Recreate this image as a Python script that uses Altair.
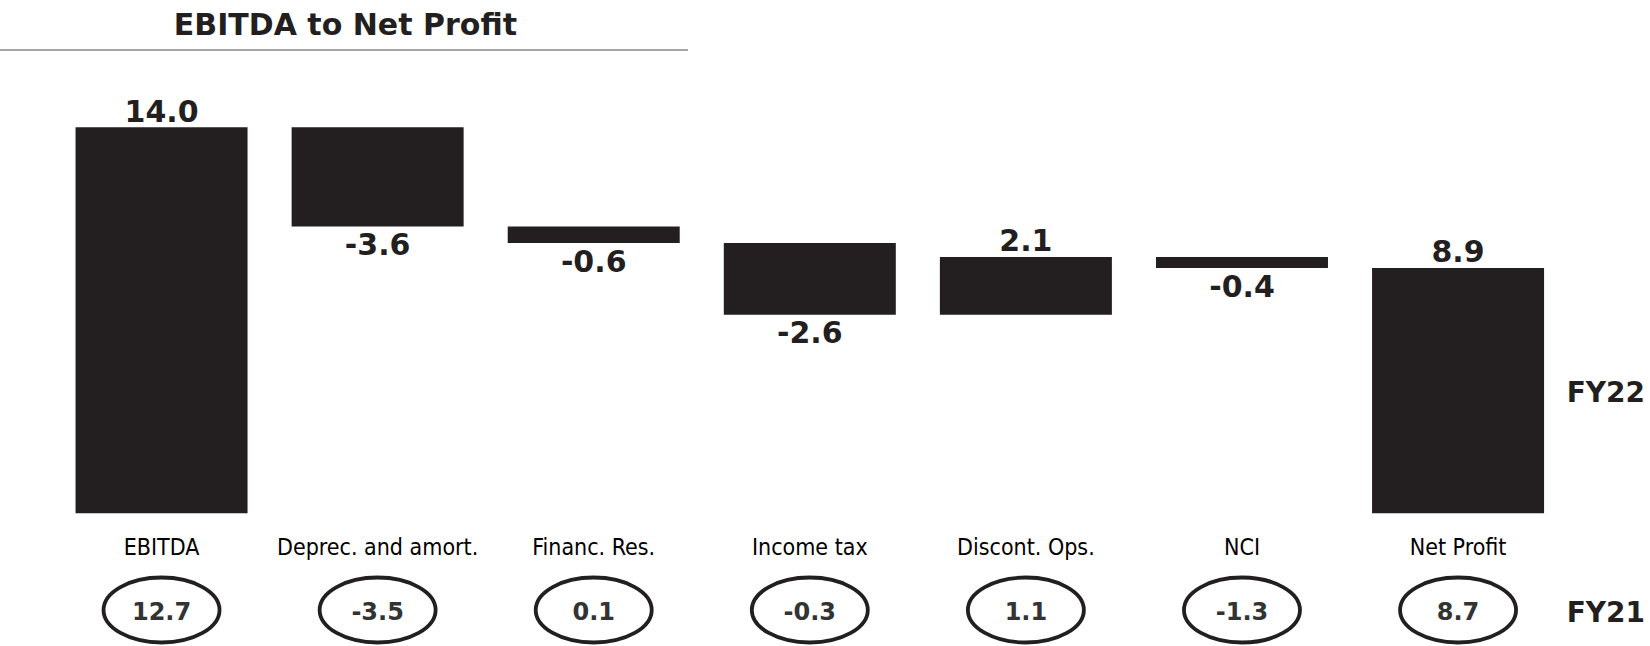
import altair as alt
import pandas as pd

# Bridge from EBITDA to net profit, FY22 bars with FY21 comparatives
categories = [
    "EBITDA",
    "Deprec. and amort.",
    "Financ. Res.",
    "Income tax",
    "Discont. Ops.",
    "NCI",
    "Net Profit",
]
fy22_values = [14.0, -3.6, -0.6, -2.6, 2.1, -0.4, 8.9]
fy21_values = [12.7, -3.5, 0.1, -0.3, 1.1, -1.3, 8.7]
is_total = [True, False, False, False, False, False, True]

# Build the floating-bar table: totals start at zero, steps continue the running sum
rows = []
running = 0.0
for cat, val, prev, total in zip(categories, fy22_values, fy21_values, is_total):
    if total:
        start, end = 0.0, val
    else:
        start, end = running, running + val
    running = end
    rows.append(
        {
            "category": cat,
            "start": start,
            "end": end,
            "top": max(start, end),
            "bottom": min(start, end),
            "up": bool(val >= 0),
            "label": f"{val:.1f}",
            "fy21": f"{prev:.1f}",
        }
    )
df = pd.DataFrame(rows)

INK = "#231f20"
BOLD_FONT = "DejaVu Sans"
NARROW_FONT = "Liberation Sans Narrow, Arial Narrow, DejaVu Sans Condensed, Liberation Sans"
ELLIPSE = "M -1 0 A 1 0.56 0 1 1 1 0 A 1 0.56 0 1 1 -1 0 Z"

PLOT_W = 1512.6
PLOT_H = 386

x_enc = alt.X(
    "category:N",
    sort=categories,
    axis=None,
    scale=alt.Scale(paddingInner=0.204, paddingOuter=0.102),
)
y_scale = alt.Scale(domain=[0, 14], nice=False, zero=True)

base = alt.Chart(df)

bars = base.mark_bar(color=INK).encode(
    x=x_enc,
    y=alt.Y("start:Q", axis=None, scale=y_scale),
    y2="end:Q",
)

labels_up = base.transform_filter("datum.up").mark_text(
    font=BOLD_FONT, fontSize=30, fontWeight="bold", color=INK,
    baseline="alphabetic", dy=-5.6,
).encode(x=x_enc, y=alt.Y("top:Q", scale=y_scale), text="label:N")

labels_down = base.transform_filter("!datum.up").mark_text(
    font=BOLD_FONT, fontSize=30, fontWeight="bold", color=INK,
    baseline="top", dy=4.6,
).encode(x=x_enc, y=alt.Y("bottom:Q", scale=y_scale), text="label:N")

cat_labels = base.mark_text(
    font=NARROW_FONT, fontSize=23, color="#000000", baseline="alphabetic",
).encode(x=x_enc, y=alt.value(428), text="category:N")

ellipses = base.mark_point(
    shape=ELLIPSE, size=13456, filled=False, stroke=INK, strokeWidth=3.8, opacity=1,
).encode(x=x_enc, y=alt.value(482.7))

fy21_text = base.mark_text(
    font=BOLD_FONT, fontSize=24, fontWeight="bold", color="#333333", baseline="middle",
).encode(x=x_enc, y=alt.value(485.4), text="fy21:N")

title_text = alt.Chart(pd.DataFrame({"t": ["EBITDA to Net Profit"]})).mark_text(
    font=BOLD_FONT, fontSize=30, fontWeight="bold", color=INK,
    align="center", baseline="alphabetic",
).encode(x=alt.value(291.9), y=alt.value(-92.3), text="t:N")

title_rule = alt.Chart(pd.DataFrame({"r": [0]})).mark_rule(
    color="#a6a6a6", strokeWidth=2,
).encode(x=alt.value(-53.5), x2=alt.value(634.5), y=alt.value(-77.3))

year_labels = alt.Chart(
    pd.DataFrame({"year": ["FY22", "FY21"], "ypos": [274.4, 494.4]})
).mark_text(
    font=BOLD_FONT, fontSize=28, fontWeight="bold", color=INK,
    align="right", baseline="alphabetic",
).encode(
    x=alt.value(1591.5),
    y=alt.Y("ypos:Q", scale=None),
    text="year:N",
)

chart = (
    alt.layer(
        title_rule, title_text, bars, labels_up, labels_down,
        cat_labels, ellipses, fy21_text, year_labels,
    )
    .properties(
        width=PLOT_W,
        height=PLOT_H,
        background="white",
        autosize=alt.AutoSizeParams(type="none"),
        padding={"left": 53.5, "top": 127.3, "right": 83.9, "bottom": 132.7},
    )
    .configure_view(strokeWidth=0, stroke="transparent")
)

chart.save("out.html", embed_options={"renderer": "svg", "actions": False})
